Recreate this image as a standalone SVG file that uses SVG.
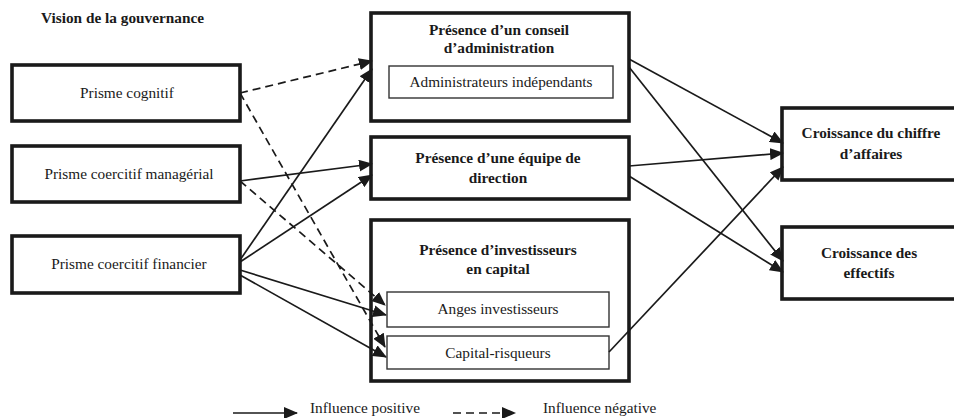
<svg xmlns="http://www.w3.org/2000/svg" width="954" height="418" viewBox="0 0 954 418">
<style>
.box{fill:#fff;stroke:#1a1a1a;stroke-width:3.6}
.inner{fill:#fff;stroke:#333;stroke-width:1.4}
.pos{stroke:#1a1a1a;stroke-width:1.7;fill:none;marker-end:url(#ah)}
.neg{stroke:#1a1a1a;stroke-width:1.7;fill:none;stroke-dasharray:8 5;marker-end:url(#ah)}
</style>
<defs>
<marker id="ah" markerUnits="userSpaceOnUse" markerWidth="14" markerHeight="12" viewBox="0 0 14 12" refX="13" refY="6" orient="auto">
<path d="M0,0 L14,6 L0,12 Z" fill="#1a1a1a"/>
</marker>
</defs>
<rect width="954" height="418" fill="#fff"/>
<text x="41" y="23" font-family="Liberation Serif" font-size="15.3" font-weight="bold" fill="#1a1a1a">Vision de la gouvernance</text>

<g id="cognitif"><rect class="box" x="12" y="65" width="228" height="56"/><text x="127" y="98" font-family="Liberation Serif" font-size="15.3" text-anchor="middle" fill="#1a1a1a">Prisme cognitif</text></g>
<g id="manag"><rect class="box" x="12" y="146" width="228" height="56"/><text x="129" y="179" font-family="Liberation Serif" font-size="15.3" text-anchor="middle" fill="#1a1a1a">Prisme coercitif managérial</text></g>
<g id="financier"><rect class="box" x="12" y="236" width="228" height="57"/><text x="129" y="269" font-family="Liberation Serif" font-size="15.3" text-anchor="middle" fill="#1a1a1a">Prisme coercitif financier</text></g>

<g id="conseil"><rect class="box" x="371" y="13" width="258" height="108"/>
<text x="499" y="35" font-family="Liberation Serif" font-size="15.3" font-weight="bold" text-anchor="middle" fill="#1a1a1a">Présence d’un conseil</text>
<text x="499" y="53" font-family="Liberation Serif" font-size="15.3" font-weight="bold" text-anchor="middle" fill="#1a1a1a">d’administration</text>
<g id="admin"><rect class="inner" x="389" y="66" width="224" height="32"/><text x="501" y="87" font-family="Liberation Serif" font-size="15.3" text-anchor="middle" fill="#1a1a1a">Administrateurs indépendants</text></g></g>

<g id="equipe"><rect class="box" x="371" y="137" width="258" height="62"/>
<text x="498" y="163" font-family="Liberation Serif" font-size="15.3" font-weight="bold" text-anchor="middle" fill="#1a1a1a">Présence d’une équipe de</text>
<text x="498" y="183" font-family="Liberation Serif" font-size="15.3" font-weight="bold" text-anchor="middle" fill="#1a1a1a">direction</text></g>

<g id="invest"><rect class="box" x="371" y="220" width="258" height="161"/>
<text x="498" y="255" font-family="Liberation Serif" font-size="15.3" font-weight="bold" text-anchor="middle" fill="#1a1a1a">Présence d’investisseurs</text>
<text x="498" y="274" font-family="Liberation Serif" font-size="15.3" font-weight="bold" text-anchor="middle" fill="#1a1a1a">en capital</text>
<g id="anges"><rect class="inner" x="387" y="292" width="222" height="35"/><text x="498" y="314" font-family="Liberation Serif" font-size="15.3" text-anchor="middle" fill="#1a1a1a">Anges investisseurs</text></g>
<g id="capital"><rect class="inner" x="387" y="336" width="222" height="33"/><text x="498" y="358" font-family="Liberation Serif" font-size="15.3" text-anchor="middle" fill="#1a1a1a">Capital-risqueurs</text></g></g>

<g id="chiffre"><rect class="box" x="782" y="108" width="180" height="72"/>
<text x="871" y="138" font-family="Liberation Serif" font-size="15.3" font-weight="bold" text-anchor="middle" fill="#1a1a1a">Croissance du chiffre</text>
<text x="871" y="159" font-family="Liberation Serif" font-size="15.3" font-weight="bold" text-anchor="middle" fill="#1a1a1a">d’affaires</text></g>
<g id="effectifs"><rect class="box" x="782" y="227" width="180" height="72"/>
<text x="869" y="258" font-family="Liberation Serif" font-size="15.3" font-weight="bold" text-anchor="middle" fill="#1a1a1a">Croissance des</text>
<text x="869" y="278" font-family="Liberation Serif" font-size="15.3" font-weight="bold" text-anchor="middle" fill="#1a1a1a">effectifs</text></g>

<g id="connectors">
<path class="neg" d="M240,93 L372,61"/>
<path class="neg" d="M240,93 L385,347"/>
<path class="neg" d="M240,181 L385,305"/>
<path class="pos" d="M240,181 L372,164"/>
<path class="pos" d="M240,260 L372,69"/>
<path class="pos" d="M240,262 L372,175"/>
<path class="pos" d="M240,270 L386,315"/>
<path class="pos" d="M240,275 L386,357"/>
<path class="pos" d="M629,59 L783,143"/>
<path class="pos" d="M629,67 L783,261"/>
<path class="pos" d="M629,166 L783,153"/>
<path class="pos" d="M629,176 L783,272"/>
<path class="pos" d="M609,352 L783,167"/>
</g>

<g id="legend">
<path class="pos" d="M233,413 L297,413"/>
<text x="310" y="413" font-family="Liberation Serif" font-size="15.3" fill="#1a1a1a">Influence positive</text>
<path class="neg" d="M453,413 L515,413"/>
<text x="543" y="413" font-family="Liberation Serif" font-size="15.3" fill="#1a1a1a">Influence négative</text>
</g>
</svg>
